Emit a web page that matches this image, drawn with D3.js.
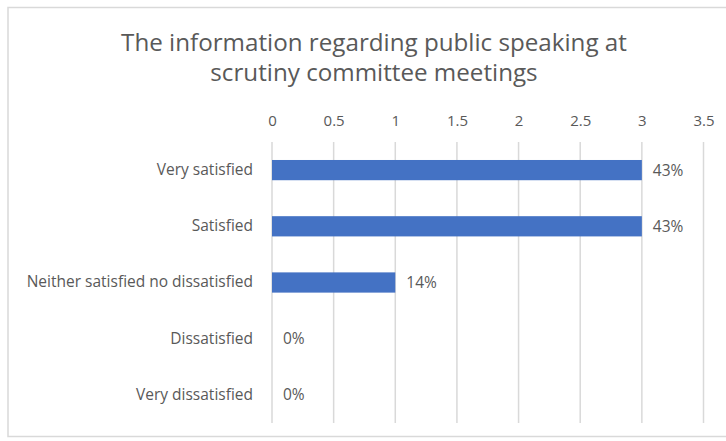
<!DOCTYPE html>
<html>
<head>
<meta charset="utf-8">
<script src="https://cdn.jsdelivr.net/npm/d3@7"></script>
<style>
  html, body { margin: 0; padding: 0; background: #ffffff; }
  svg { display: block; }
  text { font-family: "Open Sans", "Noto Sans", sans-serif; fill: #595959; }
</style>
</head>
<body>
<svg id="chart" width="726" height="441"></svg>
<script>
// Survey responses (counts) per satisfaction level
const categories = [
  "Very satisfied",
  "Satisfied",
  "Neither satisfied no dissatisfied",
  "Dissatisfied",
  "Very dissatisfied"
];
const counts = [3, 3, 1, 0, 0];
const tickValues = [0, 0.5, 1, 1.5, 2, 2.5, 3, 3.5];
const titleLines = [
  "The information regarding public speaking at",
  "scrutiny committee meetings"
];

const svg = d3.select("#chart");
const W = 726, H = 441;
const margin = { top: 142, right: 22.5, bottom: 18, left: 272 };

// Chart frame
svg.append("rect")
  .attr("x", 8).attr("y", 7.5)
  .attr("width", W + 10).attr("height", 429)
  .attr("fill", "#ffffff")
  .attr("stroke", "#d9d9d9")
  .attr("stroke-width", 1.5);

// Title
svg.append("g").selectAll("text")
  .data(titleLines)
  .join("text")
  .attr("x", 374)
  .attr("y", (d, i) => 51 + i * 30)
  .attr("text-anchor", "middle")
  .attr("font-size", 24.2)
  .text(d => d);

const x = d3.scaleLinear()
  .domain([0, 3.5])
  .range([margin.left, W - margin.right]);

const y = d3.scaleBand()
  .domain(categories)
  .range([margin.top, H - margin.bottom])
  .paddingInner(0.64)
  .paddingOuter(0.32);

const total = d3.sum(counts);
const pct = d3.format(".0%");

// Vertical gridlines
svg.append("g")
  .selectAll("line")
  .data(tickValues)
  .join("line")
  .attr("x1", d => x(d)).attr("x2", d => x(d))
  .attr("y1", margin.top).attr("y2", H - margin.bottom)
  .attr("stroke", "#d9d9d9")
  .attr("stroke-width", 1.5);

// Top value axis
const xAxis = svg.append("g")
  .attr("transform", `translate(0,${margin.top - 16})`)
  .call(d3.axisTop(x).tickValues(tickValues).tickSize(0).tickPadding(0).tickFormat(d3.format("")));
xAxis.select(".domain").remove();
xAxis.selectAll("text")
  .attr("dy", "0em")
  .attr("font-size", 15)
  .attr("fill", "#595959")
  .attr("font-family", "\"Open Sans\", sans-serif");

// Category axis
const yAxis = svg.append("g")
  .attr("transform", `translate(${margin.left - 19},0)`)
  .call(d3.axisLeft(y).tickSize(0).tickPadding(0));
yAxis.select(".domain").remove();
yAxis.selectAll("text")
  .attr("font-size", 15.5)
  .attr("fill", "#595959")
  .attr("font-family", "\"Open Sans\", sans-serif");

// Bars
svg.append("g")
  .selectAll("rect")
  .data(counts)
  .join("rect")
  .attr("x", x(0))
  .attr("y", (d, i) => y(categories[i]))
  .attr("width", d => x(d) - x(0))
  .attr("height", y.bandwidth())
  .attr("fill", "#4472c4");

// Data labels (share of all responses)
svg.append("g")
  .selectAll("text")
  .data(counts)
  .join("text")
  .attr("x", d => x(d) + 11)
  .attr("y", (d, i) => y(categories[i]) + y.bandwidth() / 2)
  .attr("dy", "0.35em")
  .attr("font-size", 15.5)
  .text(d => pct(d / total));
</script>
</body>
</html>
